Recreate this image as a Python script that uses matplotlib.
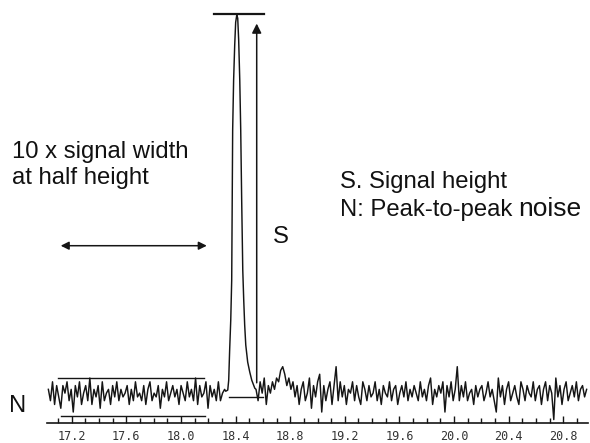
import numpy as np
import matplotlib.pyplot as plt

# retention time window of the trace (min)
t_start, t_end = 17.02, 20.98

# baseline noise before the peak, one sample every ~0.015 min
noise_left = [1, -2, 3, -3, 2, -1, -4, 2, 0, 3, -2, 1, -5, 2, -1, 3, -3, 0, 2, -2,
              4, -3, 1, -1, 2, -4, 3, -2, 0, 1, -3, 2, -1, 3, -2, 1, -1, 0, 2, -3,
              1, -2, 3, -1, 0, -2, 2, -3, 1, 3, -2, 0, -1, 2, -4, 1, -1, 3, -2, 0,
              2, -1, 1, -3, 2, 0, -2, 3, -1, 1, -2, 4, -3, 2, -1, 0, 3, -4, 2, -1,
              1, -2, 3, -2, 0, 1]
left_span = (17.03, 18.32)

# the analyte peak
peak_t = [18.328, 18.343, 18.350, 18.357, 18.365, 18.372, 18.376, 18.379, 18.386,
          18.394, 18.401, 18.409, 18.416, 18.423, 18.431, 18.438, 18.445, 18.453,
          18.460, 18.467, 18.475, 18.489, 18.504, 18.519, 18.541]
peak_y = [0.5, 0.8, 3.4, 11.4, 19.3, 29.9, 51.1, 69.6, 82.8,
          92.1, 98.1, 100.0, 99.2, 93.4, 82.8, 69.6, 51.1, 32.5,
          24.6, 18.0, 12.7, 8.2, 5.6, 3.4, 1.3]

# baseline noise after the peak
noise_right = [1, -2, 3, 0, 4, -3, 2, 0, 3, 1, 4, 3, 6, 7, 5, 2, 4, 1, 3, -1,
               2, -3, 1, 3, -2, 0, 4, -4, 2, -1, 3, 5, -5, 2, -2, 1, 3, -3, 2, 7,
               -2, 3, -1, 2, -3, 1, 0, 3, -2, 2, -1, -3, 3, 1, -2, 2, -1, 0, 3, -2,
               1, -3, 2, 0, -1, 3, -2, 1, 2, -3, 0, 2, -1, 3, -2, 1, -1, 2, 0, -2,
               3, -1, 1, -2, 2, 4, -3, 1, -1, 2, 0, 3, -5, 2, -1, 3, -2, 1, 7, -2,
               2, -1, 3, -2, 0, 1, -3, 2, -1, 1, 2, -2, 0, 3, -1, 1, -2, -5, 4, -1,
               2, -3, 1, 3, -2, 0, 2, -1, -3, 3, 1, -2, 2, 0, -1, 3, -2, 1, 2, -3,
               1, 3, -2, 2, 0, -7, 4, -1, 2, -3, 1, 3, -2, 0, 2, -1, 3, -2, 1, 2, -1, 1]
right_span = (18.55, 20.97)

major_ticks = [17.2, 17.6, 18.0, 18.4, 18.8, 19.2, 19.6, 20.0, 20.4, 20.8]

t_left = np.linspace(*left_span, len(noise_left))
t_right = np.linspace(*right_span, len(noise_right))
t = np.concatenate([t_left, peak_t, t_right])
y = np.concatenate([noise_left, peak_y, noise_right])

ink = '#151515'

fig = plt.figure(figsize=(5.9, 4.43), dpi=100)
ax = fig.add_axes([47 / 590, 20 / 443, 541 / 590, 423 / 443])
ax.plot(t, y, color=ink, lw=1.05)

ax.set_xlim(t_start, t_end)
ax.set_ylim(-7.9, 104)
for s in ['left', 'top', 'right']:
    ax.spines[s].set_visible(False)
ax.spines['bottom'].set_color(ink)
ax.spines['bottom'].set_linewidth(1.2)
ax.set_yticks([])
ax.set_xticks(major_ticks)
ax.set_xticks(np.arange(17.1, 21.0, 0.1), minor=True)
ax.tick_params(axis='x', which='major', direction='in', length=5, width=1, color=ink,
               labelsize=8.5, pad=5, labelcolor='#333333')
ax.tick_params(axis='x', which='minor', direction='in', length=3.5, width=1, color=ink)
for lab in ax.get_xticklabels():
    lab.set_family('DejaVu Sans Mono')

# signal height: cap line at the apex, arrow from the baseline
ax.plot([18.24, 18.61], [100.3, 100.3], color=ink, lw=1.6)
ax.annotate('', xy=(18.555, 98.5), xytext=(18.555, 2),
            arrowprops=dict(arrowstyle='-|>', color=ink, lw=1.1, mutation_scale=14))
ax.plot([18.35, 18.6], [-1.0, -1.0], color=ink, lw=1.0)

# peak-to-peak noise envelope
ax.plot([17.1, 18.17], [4.0, 4.0], color=ink, lw=1.0)
ax.plot([17.12, 18.18], [-6.0, -6.0], color=ink, lw=1.0)

# window of 10 x half-height width
ax.annotate('', xy=(17.1, 39), xytext=(18.21, 39),
            arrowprops=dict(arrowstyle='<|-|>', color=ink, lw=1.1, mutation_scale=12))

txt = dict(family='Liberation Sans', color='#111111', va='baseline', ha='left')
fs = 17.2


def label(x, y, s, size=fs):
    fig.text(x / 590, 1 - y / 443, s, fontsize=size, **txt)


label(12, 158, '10 x signal width')
label(12, 184, 'at half height')
label(273, 243, 'S')
label(340, 188, 'S. Signal height')
label(340, 216, 'N: Peak-to-peak')
label(518, 216, 'noise', size=19)
label(9, 412, 'N')

fig.savefig('out.png', dpi=100)
